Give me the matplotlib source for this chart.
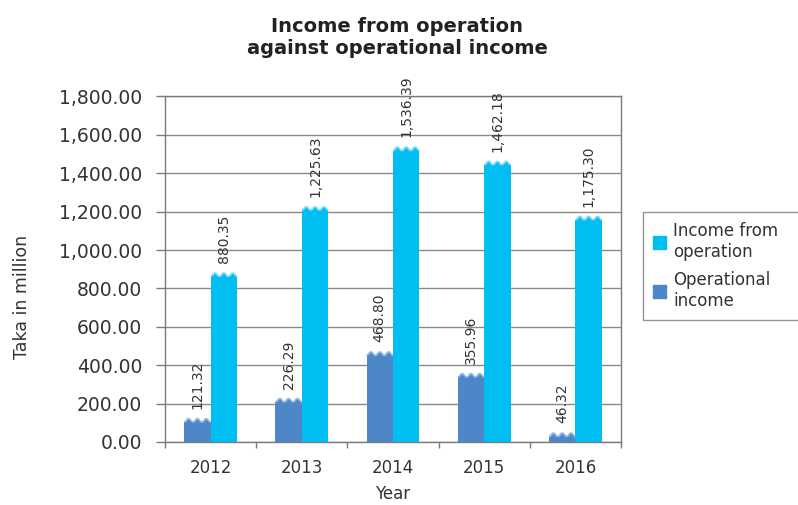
import matplotlib.pyplot as plt
import numpy as np
from matplotlib.patches import Patch

plt.rcParams['font.family'] = 'DejaVu Sans'

years = ["2012", "2013", "2014", "2015", "2016"]
operational_income = [121.32, 226.29, 468.80, 355.96, 46.32]
income_from_operation = [880.35, 1225.63, 1536.39, 1462.18, 1175.30]

dark_blue = "#4d87c7"
cyan = "#00bdf2"
text_color = "#333333"
grey = "#7a7a7a"

fig = plt.figure(figsize=(7.98, 5.05), dpi=100)
ax = fig.add_axes([0.2068, 0.1248, 0.5714, 0.6842])

x = np.arange(len(years))
w = 0.29
amp = 18  # height of the wavy cap, in data units


def wavy_bar(xc, value, color, edge):
    # bar body plus a wavy cap with three crests reaching the value
    ax.bar(xc, value - amp, w, color=color, zorder=3, linewidth=0)
    xs = np.linspace(xc - w / 2, xc + w / 2, 80)
    t = (xs - xs[0]) / (xs[-1] - xs[0])
    ys = value - amp + amp * (0.5 + 0.5 * np.sin(2 * np.pi * (3 * t - 0.25)))
    ax.fill_between(xs, value - amp - 1, ys, color=color, linewidth=0, zorder=3)
    ax.plot(xs, ys, color=edge, lw=1.2, zorder=4, solid_capstyle='butt')
    ax.annotate(f"{value:,.2f}", (xc, value), xytext=(0, 7), textcoords='offset points',
                rotation=90, ha='center', va='bottom', fontsize=10, color=text_color)


for i in range(len(years)):
    wavy_bar(x[i] - w / 2, operational_income[i], dark_blue, "#8fb6e3")
    wavy_bar(x[i] + w / 2, income_from_operation[i], cyan, "#7fdaf7")

ax.set_xlim(-0.5, len(years) - 0.5)
ax.set_ylim(0, 1800)
ax.set_yticks(np.arange(0, 1801, 200))
ax.set_yticklabels([f"{v:,.2f}" for v in np.arange(0, 1801, 200)])
ax.yaxis.grid(True, color="#8a8a8a", lw=1)
ax.set_axisbelow(True)

ax.set_xticks(x)
ax.set_xticklabels(years)
ax.set_xticks(np.arange(-0.5, len(years)), minor=True)
ax.tick_params(axis='x', which='major', length=0, pad=12, labelsize=12, labelcolor=text_color)
ax.tick_params(axis='x', which='minor', length=4.5, color=grey, width=1)
ax.tick_params(axis='y', length=6.5, color=grey, width=1, pad=10, labelsize=13.5, labelcolor=text_color)

for s in ax.spines.values():
    s.set_color(grey)
    s.set_linewidth(1)

ax.set_xlabel("Year", fontsize=12, color=text_color, labelpad=6)
ax.set_ylabel("Taka in million", fontsize=12.5, color=text_color)
ax.yaxis.set_label_coords(-0.295, 0.42)

fig.text(0.4975, 0.926, "Income from operation\nagainst operational income", ha='center', va='center',
         fontsize=14, fontweight='bold', color="#222222", linespacing=1.2)

handles = [Patch(color=cyan), Patch(color=dark_blue)]
leg = fig.legend(handles, ["Income from\noperation", "Operational\nincome"],
                 loc='upper left', bbox_to_anchor=(643 / 798, 1 - 320 / 505, 170 / 798, 108 / 505),
                 mode='expand', fontsize=12, frameon=True, fancybox=False, edgecolor=grey,
                 handlelength=0.8, handleheight=0.8, handletextpad=0.4,
                 labelspacing=0.6, borderpad=0.6, borderaxespad=0)
leg.get_frame().set_linewidth(1)
for t in leg.get_texts():
    t.set_color(text_color)

fig.savefig("out.png", dpi=100)
